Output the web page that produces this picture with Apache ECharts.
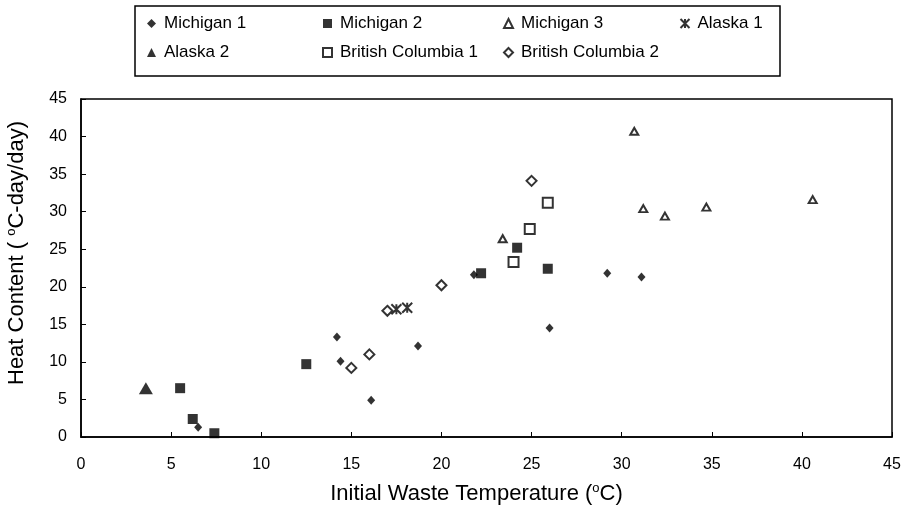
<!DOCTYPE html>
<html>
<head>
<meta charset="utf-8">
<script src="https://cdn.jsdelivr.net/npm/echarts@6/dist/echarts.min.js"></script>
<style>html,body{margin:0;padding:0;background:#fff}#c{width:906px;height:514px}</style>
</head>
<body>
<div id="c"></div>
<script>
var xTicks = [0, 5, 10, 15, 20, 25, 30, 35, 40, 45];
var yTicks = [0, 5, 10, 15, 20, 25, 30, 35, 40, 45];
var michigan1 = [[6.5,1.3],[14.2,13.3],[14.4,10.1],[16.1,4.9],[18.7,12.1],[21.8,21.6],[26.0,14.5],[29.2,21.8],[31.1,21.3]];
var michigan2 = [[5.5,6.5],[6.2,2.4],[7.4,0.5],[12.5,9.7],[22.2,21.8],[24.2,25.2],[25.9,22.4]];
var michigan3 = [[23.4,26.4],[30.7,40.7],[31.2,30.4],[32.4,29.4],[34.7,30.6],[40.6,31.6]];
var alaska1 = [[17.5,17.0],[18.1,17.2]];
var alaska2 = [[3.6,6.5]];
var bc1 = [[24.0,23.3],[24.9,27.7],[25.9,31.2]];
var bc2 = [[15.0,9.2],[16.0,11.0],[17.0,16.8],[20.0,20.2],[25.0,34.1]];

var FONT = 'Liberation Sans';
var asterisk = 'path://M0,0L10,10M10,0L0,10M5,0L5,10';
var diamond = 'path://M5,0L10,5L5,10L0,5Z';

var series = [
  {name:'Michigan 1', data:michigan1, symbol:'diamond', symbolSize:[8,9], itemStyle:{color:'#000'}},
  {name:'Michigan 2', data:michigan2, symbol:'rect', symbolSize:10, itemStyle:{color:'#000'}},
  {name:'Michigan 3', data:michigan3, symbol:'triangle', symbolSize:[8,7], itemStyle:{color:'#fff', borderColor:'#000', borderWidth:2}},
  {name:'Alaska 1', data:alaska1, symbol:asterisk, symbolSize:10, itemStyle:{color:'none', borderColor:'#000', borderWidth:2}},
  {name:'Alaska 2', data:alaska2, symbol:'triangle', symbolSize:[14,12], itemStyle:{color:'#000'}},
  {name:'British Columbia 1', data:bc1, symbol:'rect', symbolSize:10, itemStyle:{color:'#fff', borderColor:'#000', borderWidth:2}},
  {name:'British Columbia 2', data:bc2, symbol:diamond, symbolSize:10, itemStyle:{color:'#fff', borderColor:'#000', borderWidth:2}}
].map(function(s){ s.type='scatter'; s.emphasis={disabled:true}; return s; });

function legendCol(names, left){
  return {
    orient:'vertical', left:left, top:10, itemGap:12, itemWidth:9, itemHeight:9,
    data:names, selectedMode:false,
    textStyle:{fontFamily:FONT, fontSize:17, color:'#000', padding:[0,0,0,3]}
  };
}

var chart = echarts.init(document.getElementById('c'), null, {renderer:'canvas'});
chart.setOption({
  animation:false,
  backgroundColor:'#fff',
  textStyle:{fontFamily:FONT},
  graphic:[{type:'rect', shape:{x:135, y:6, width:645, height:70}, style:{fill:'none', stroke:'#000', lineWidth:1.5}, z:-1}],
  legend:[
    legendCol(['Michigan 1','Alaska 2'], 142),
    legendCol(['Michigan 2','British Columbia 1'], 317),
    legendCol(['Michigan 3','British Columbia 2'], 498),
    legendCol(['Alaska 1'], 673)
  ],
  grid:{left:81, right:14, top:99, bottom:77, containLabel:false, outerBoundsMode:'none', show:true, borderColor:'#000', borderWidth:1.5},
  xAxis:{
    type:'value', min:0, max:45, interval:5,
    name:'Initial Waste Temperature ({sup|o}C)', nameLocation:'middle', nameGap:45,
    nameTextStyle:{fontFamily:FONT, fontSize:22, color:'#000', padding:[0,20,0,0], rich:{sup:{fontSize:13, padding:[0,0,11,0], fontFamily:FONT, color:'#000'}}},
    axisLine:{lineStyle:{color:'#000', width:1.5}},
    axisTick:{inside:true, length:5, lineStyle:{color:'#000'}},
    axisLabel:{fontFamily:FONT, fontSize:16, color:'#000', margin:20},
    splitLine:{show:false}
  },
  yAxis:{
    type:'value', min:0, max:45, interval:5,
    name:'Heat Content ( {sup|o}C-day/day)', nameLocation:'middle', nameGap:52,
    nameTextStyle:{fontFamily:FONT, fontSize:22, color:'#000', padding:[0,0,0,30], rich:{sup:{fontSize:13, padding:[0,0,11,0], fontFamily:FONT, color:'#000'}}},
    axisLine:{lineStyle:{color:'#000', width:1.5}},
    axisTick:{inside:true, length:5, lineStyle:{color:'#000'}},
    axisLabel:{fontFamily:FONT, fontSize:16, color:'#000', margin:14},
    splitLine:{show:false}
  },
  series:series
});
</script>
</body>
</html>
